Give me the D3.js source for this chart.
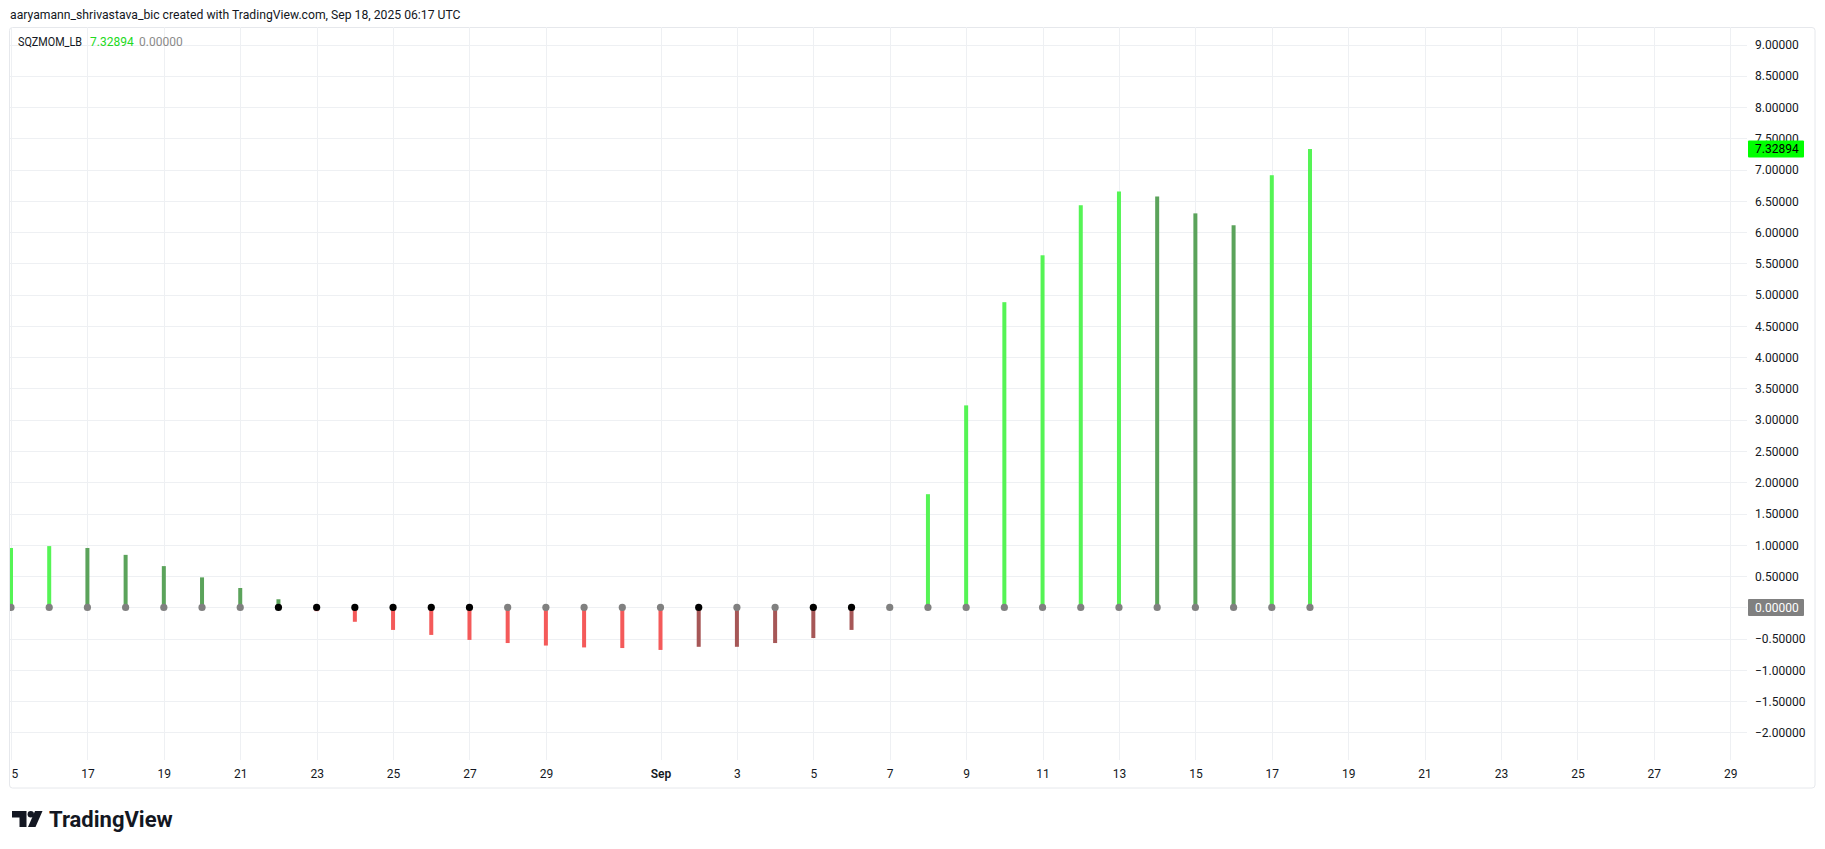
<!DOCTYPE html>
<html>
<head>
<meta charset="utf-8">
<script src="https://cdn.jsdelivr.net/npm/d3@7"></script>
<style>
  html, body { margin: 0; padding: 0; background: #ffffff; }
  svg { display: block; }
  text { font-family: Roboto, "Noto Sans", "DejaVu Sans", sans-serif; }
</style>
</head>
<body>
<svg id="chart" width="1825" height="849"></svg>
<script>
// ---------------- DATA ----------------
const dates = [
  "2025-08-15","2025-08-16","2025-08-17","2025-08-18","2025-08-19","2025-08-20","2025-08-21",
  "2025-08-22","2025-08-23","2025-08-24","2025-08-25","2025-08-26","2025-08-27","2025-08-28",
  "2025-08-29","2025-08-30","2025-08-31","2025-09-01","2025-09-02","2025-09-03","2025-09-04",
  "2025-09-05","2025-09-06","2025-09-07","2025-09-08","2025-09-09","2025-09-10","2025-09-11",
  "2025-09-12","2025-09-13","2025-09-14","2025-09-15","2025-09-16","2025-09-17","2025-09-18"
];
const momentum = [
  0.95, 0.98, 0.95, 0.84, 0.66, 0.48, 0.31,
  0.13, -0.06, -0.23, -0.36, -0.44, -0.52, -0.57,
  -0.61, -0.64, -0.65, -0.68, -0.63, -0.63, -0.57,
  -0.49, -0.36, 0.02, 1.81, 3.23, 4.88, 5.63,
  6.43, 6.65, 6.57, 6.30, 6.11, 6.91, 7.32894
];
const barColor = [
  "lime","lime","green","green","green","green","green",
  "green","red","red","red","red","red","red",
  "red","red","red","red","maroon","maroon","maroon",
  "maroon","maroon","lime","lime","lime","lime","lime",
  "lime","lime","green","green","green","lime","lime"
];
const squeezeDot = [
  "gray","gray","gray","gray","gray","gray","gray",
  "black","black","black","black","black","black","gray",
  "gray","gray","gray","gray","black","gray","gray",
  "black","black","gray","gray","gray","gray","gray",
  "gray","gray","gray","gray","gray","gray","gray"
];
const xTickDates = [
  "2025-08-15","2025-08-17","2025-08-19","2025-08-21","2025-08-23","2025-08-25","2025-08-27",
  "2025-08-29","2025-09-01","2025-09-03","2025-09-05","2025-09-07","2025-09-09","2025-09-11",
  "2025-09-13","2025-09-15","2025-09-17","2025-09-19","2025-09-21","2025-09-23","2025-09-25",
  "2025-09-27","2025-09-29"
];
const xTickLabels = [
  "15","17","19","21","23","25","27","29","Sep","3","5","7","9","11","13","15","17","19","21","23","25","27","29"
];
const yTicks = [-2,-1.5,-1,-0.5,0,0.5,1,1.5,2,2.5,3,3.5,4,4.5,5,5.5,6,6.5,7,7.5,8,8.5,9];
const titleText = "aaryamann_shrivastava_bic created with TradingView.com, Sep 18, 2025 06:17 UTC";
const indicatorName = "SQZMOM_LB";
const lastValue = 7.32894;
const zeroValue = 0;

// ---------------- STYLE ----------------
const palette = {
  lime: "#55f455",
  green: "#5ba35b",
  red: "#f45a5a",
  maroon: "#a65757",
  gray: "#808080",
  black: "#000000"
};
const plot = { left: 10, right: 1747, top: 27, bottom: 760 };
const gridColor = "#eef0f3";
const textColor = "#131722";

const parse = d3.utcParse("%Y-%m-%d");
const data = dates.map((d, i) => ({
  date: parse(d), v: momentum[i], bc: barColor[i], dc: squeezeDot[i]
}));

const svg = d3.select("#chart");
svg.append("rect").attr("width", 1825).attr("height", 849).attr("fill", "#ffffff");

// scales
const x = d3.scaleUtc()
  .domain([parse("2025-08-15"), parse("2025-09-18")])
  .range([11, 1310]);
const y = d3.scaleLinear()
  .domain([-2.44, 9.28])
  .range([plot.bottom, plot.top]);

// title
svg.append("text")
  .attr("x", 10).attr("y", 19)
  .attr("font-size", 12.2).attr("fill", textColor)
  .text(titleText);

// frame
svg.append("rect")
  .attr("x", 9.5).attr("y", 27.5)
  .attr("width", 1815 - 9.5).attr("height", 788 - 27.5)
  .attr("rx", 3)
  .attr("fill", "none").attr("stroke", "#e6e8ec");

const defs = svg.append("defs");
defs.append("clipPath").attr("id", "plotClip")
  .append("rect").attr("x", plot.left).attr("y", plot.top)
  .attr("width", plot.right - plot.left).attr("height", plot.bottom - plot.top);
defs.append("clipPath").attr("id", "timeClip")
  .append("rect").attr("x", plot.left).attr("y", plot.bottom)
  .attr("width", plot.right - plot.left).attr("height", 28);

// grid
const grid = svg.append("g").attr("clip-path", "url(#plotClip)");
grid.selectAll("line.h").data(yTicks).join("line")
  .attr("class", "h")
  .attr("x1", plot.left).attr("x2", plot.right)
  .attr("y1", d => Math.round(y(d)) + 0.5).attr("y2", d => Math.round(y(d)) + 0.5)
  .attr("stroke", gridColor).attr("stroke-width", 1);
grid.selectAll("line.v").data(xTickDates.map(parse)).join("line")
  .attr("class", "v")
  .attr("x1", d => Math.round(x(d)) + 0.5).attr("x2", d => Math.round(x(d)) + 0.5)
  .attr("y1", plot.top).attr("y2", plot.bottom)
  .attr("stroke", gridColor).attr("stroke-width", 1);

// bars
const marks = svg.append("g").attr("clip-path", "url(#plotClip)");
marks.selectAll("rect.bar").data(data).join("rect")
  .attr("class", "bar")
  .attr("x", d => x(d.date) - 2)
  .attr("width", 4)
  .attr("y", d => y(Math.max(0, d.v)))
  .attr("height", d => Math.abs(y(d.v) - y(0)))
  .attr("fill", d => palette[d.bc]);

// squeeze dots
marks.selectAll("circle.dot").data(data).join("circle")
  .attr("class", "dot")
  .attr("cx", d => x(d.date))
  .attr("cy", y(0))
  .attr("r", 3.6)
  .attr("fill", d => palette[d.dc]);

// legend
svg.append("text").attr("x", 18).attr("y", 46).attr("font-size", 12)
  .attr("fill", textColor).attr("textLength", 64).attr("lengthAdjust", "spacingAndGlyphs")
  .text(indicatorName);
svg.append("text").attr("x", 90).attr("y", 46).attr("font-size", 12)
  .attr("fill", "#22d922").text(lastValue.toFixed(5));
svg.append("text").attr("x", 139).attr("y", 46).attr("font-size", 12)
  .attr("fill", "#8a8a8a").text(zeroValue.toFixed(5));

// price axis
const yAxis = d3.axisRight(y).tickValues(yTicks).tickSize(0).tickPadding(0)
  .tickFormat(d => (d < 0 ? "\u2212" : "") + Math.abs(d).toFixed(5));
const ya = svg.append("g").attr("transform", `translate(1755,0)`).call(yAxis);
ya.select(".domain").remove();
ya.selectAll("text")
  .attr("x", 0).attr("dy", "0.35em")
  .attr("font-size", 12).attr("font-family", "Roboto, 'Noto Sans', sans-serif")
  .attr("fill", textColor).attr("text-anchor", "start");

// highlighted price labels
function priceTag(value, bg, fg) {
  const cy = y(value);
  svg.append("rect").attr("x", 1748).attr("y", cy - 8.5)
    .attr("width", 56).attr("height", 17).attr("rx", 1).attr("fill", bg);
  svg.append("text").attr("x", 1755).attr("y", cy).attr("dy", "0.35em")
    .attr("font-size", 12).attr("fill", fg).text(value.toFixed(5));
}
priceTag(lastValue, "#00ff00", "#000000");
priceTag(zeroValue, "#808080", "#ffffff");

// time axis
const xAxis = d3.axisBottom(x).tickValues(xTickDates.map(parse)).tickSize(0).tickPadding(0)
  .tickFormat((d, i) => xTickLabels[i]);
const xa = svg.append("g").attr("clip-path", "url(#timeClip)")
  .append("g").attr("transform", `translate(0,${plot.bottom})`).call(xAxis);
xa.select(".domain").remove();
xa.selectAll("text")
  .attr("y", 14).attr("dy", "0.35em")
  .attr("font-size", 12).attr("font-family", "Roboto, 'Noto Sans', sans-serif")
  .attr("fill", textColor)
  .attr("font-weight", (d, i) => xTickLabels[i] === "Sep" ? 600 : 400);

// TradingView logo
const logo = svg.append("g").attr("fill", "#131722");
logo.append("path").attr("d", "M12,811 H26.5 V827 H19.5 V817.5 H12 Z");
logo.append("circle").attr("cx", 30.8).attr("cy", 814.2).attr("r", 3.2);
logo.append("path").attr("d", "M35,811 H42.5 L35.5,827 H28 Z");
svg.append("text").attr("x", 49).attr("y", 827)
  .attr("font-size", 22).attr("font-weight", 700).attr("fill", "#131722")
  .text("TradingView");
</script>
</body>
</html>
